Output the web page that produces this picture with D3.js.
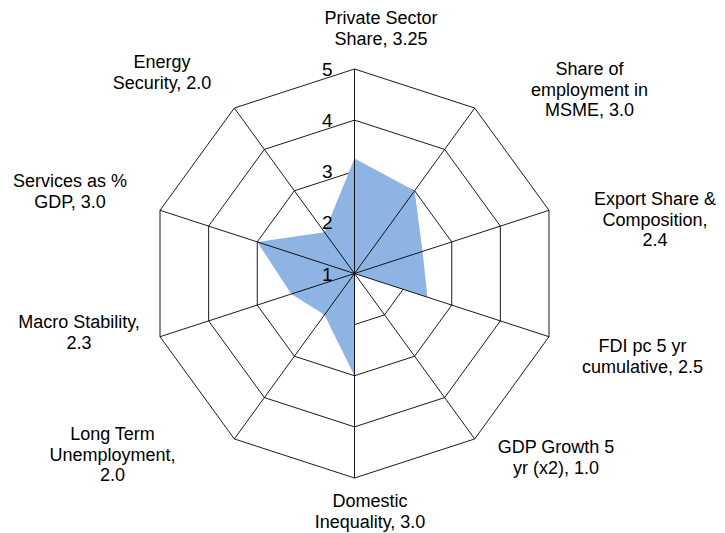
<!DOCTYPE html>
<html>
<head>
<meta charset="utf-8">
<script src="https://cdn.jsdelivr.net/npm/d3@7"></script>
<style>
  html, body { margin: 0; padding: 0; background: #fff; }
  svg { display: block; }
</style>
</head>
<body>
<svg id="chart" width="725" height="533"></svg>
<script>
// ---- data ----
const categories = [
  ["Private Sector", "Share, 3.25"],
  ["Share of", "employment in", "MSME, 3.0"],
  ["Export Share &", "Composition,", "2.4"],
  ["FDI pc 5 yr", "cumulative, 2.5"],
  ["GDP Growth 5", "yr (x2), 1.0"],
  ["Domestic", "Inequality, 3.0"],
  ["Long Term", "Unemployment,", "2.0"],
  ["Macro Stability,", "2.3"],
  ["Services as %", "GDP, 3.0"],
  ["Energy", "Security, 2.0"]
];
const values = [3.25, 3.0, 2.4, 2.5, 1.0, 3.0, 2.0, 2.3, 3.0, 2.0];
const tickValues = [1, 2, 3, 4, 5];

// ---- layout (label centre x, first baseline y) ----
const labelLayout = [
  [381, 24], [589.5, 75], [655, 205], [642.5, 352], [556, 453],
  [370, 507], [112.5, 440], [79, 328], [70, 187], [162, 68]
];

const cx = 354.5, cy = 273.5, R = 204.5;
const svg = d3.select("#chart");
const g = svg.append("g").attr("transform", `translate(${cx},${cy})`);

const r = d3.scaleLinear().domain([1, 5]).range([0, R]);
const n = categories.length;
const angle = d3.scaleLinear().domain([0, n]).range([0, 2 * Math.PI]);

const pt = (i, v) => {
  const a = angle(i);
  return [r(v) * Math.sin(a), -r(v) * Math.cos(a)];
};

// rings
const ringLine = d3.line();
tickValues.filter(t => t > 1).forEach(t => {
  const pts = d3.range(n).map(i => pt(i, t));
  g.append("path")
    .attr("d", ringLine(pts) + "Z")
    .attr("fill", "none")
    .attr("stroke", "#000")
    .attr("stroke-width", 0.9);
});

// data polygon
g.append("path")
  .attr("d", d3.line()(values.map((v, i) => pt(i, v))) + "Z")
  .attr("fill", "#8EB4E3")
  .attr("stroke", "none");

// spokes
d3.range(n).forEach(i => {
  const [x, y] = pt(i, 5);
  g.append("line")
    .attr("x1", 0).attr("y1", 0)
    .attr("x2", x).attr("y2", y)
    .attr("stroke", "#000")
    .attr("stroke-width", 0.9);
});

// tick labels
g.selectAll("text.tick")
  .data(tickValues)
  .join("text")
  .attr("class", "tick")
  .attr("x", -22)
  .attr("y", d => -r(d) + 7)
  .attr("text-anchor", "end")
  .attr("font-family", "Liberation Sans, Arial, sans-serif")
  .attr("font-size", 19)
  .attr("fill", "#000")
  .text(d => d);

// category labels
categories.forEach((lines, i) => {
  const [lx, ly] = labelLayout[i];
  const t = svg.append("text")
    .attr("text-anchor", "middle")
    .attr("font-family", "Liberation Sans, Arial, sans-serif")
    .attr("font-size", 18)
    .attr("fill", "#000");
  lines.forEach((s, k) => {
    t.append("tspan").attr("x", lx).attr("y", ly + k * 20.6).text(s);
  });
});
</script>
</body>
</html>
